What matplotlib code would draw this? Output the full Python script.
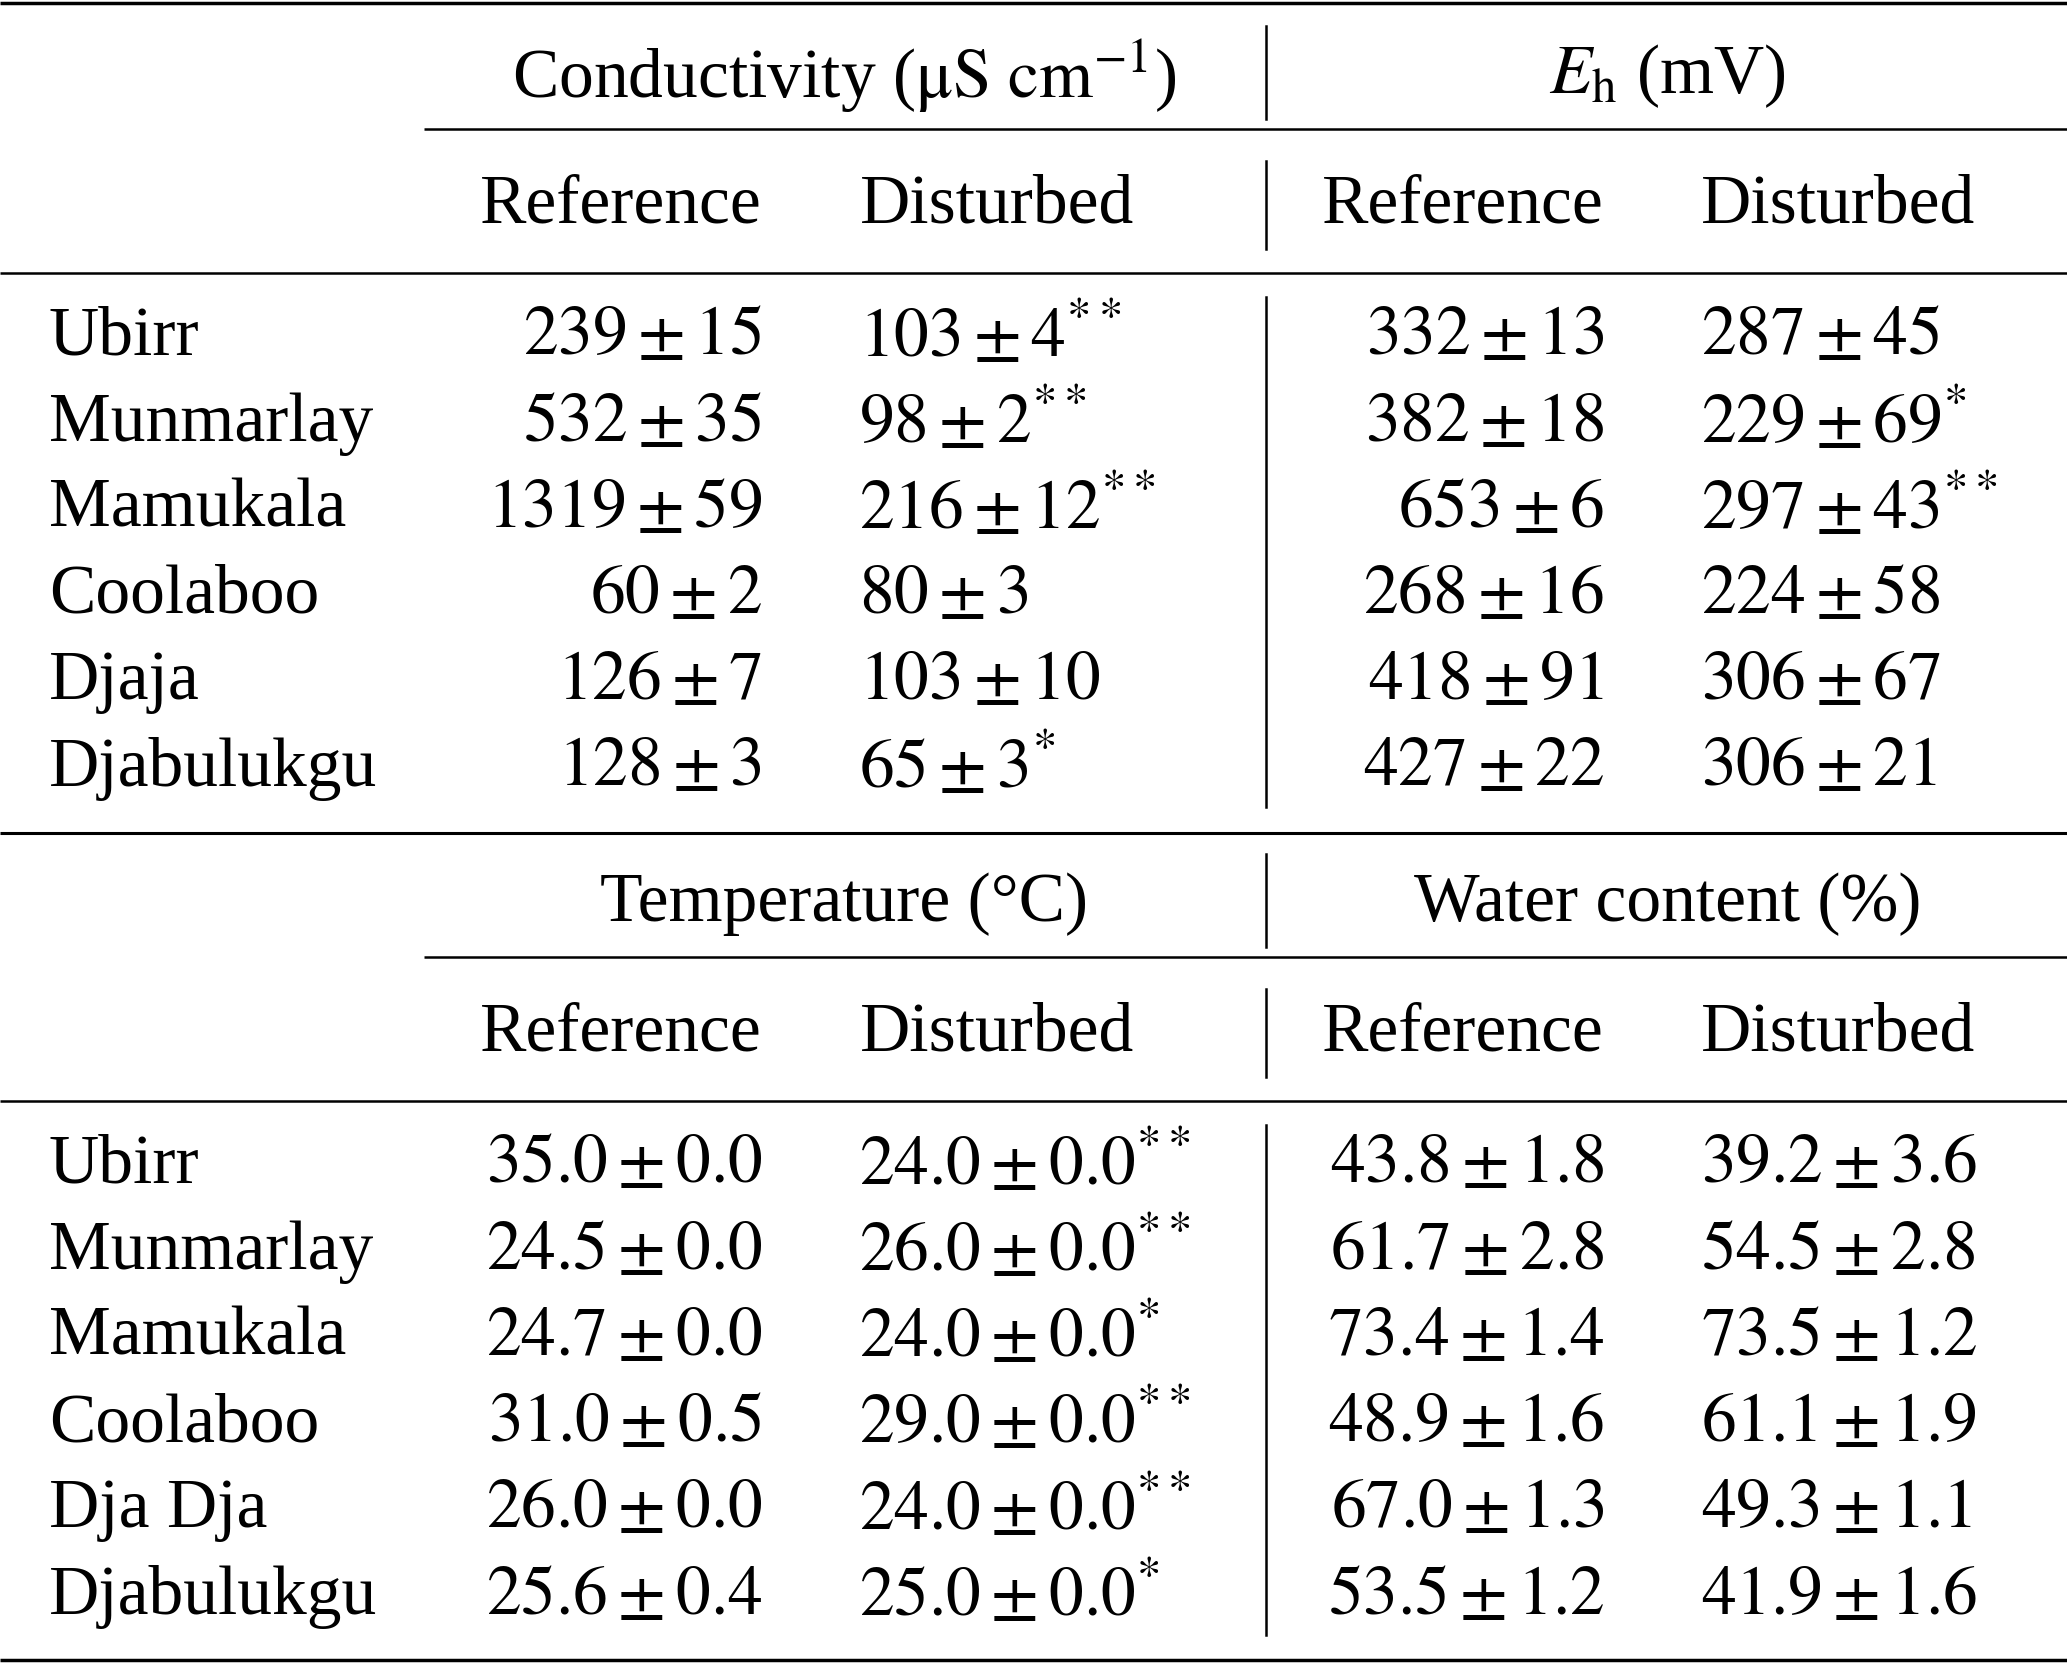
import matplotlib.pyplot as plt

plt.rcParams["mathtext.fontset"] = "stix"
plt.rcParams["font.family"] = ["Liberation Serif", "DejaVu Serif"]

sites_top = ["Ubirr", "Munmarlay", "Mamukala", "Coolaboo", "Djaja", "Djabulukgu"]
sites_bot = ["Ubirr", "Munmarlay", "Mamukala", "Coolaboo", "Dja Dja", "Djabulukgu"]

cond_ref = [(239, 15), (532, 35), (1319, 59), (60, 2), (126, 7), (128, 3)]
cond_dis = [(103, 4), (98, 2), (216, 12), (80, 3), (103, 10), (65, 3)]
cond_sig = ["**", "**", "**", "", "", "*"]
eh_ref = [(332, 13), (382, 18), (653, 6), (268, 16), (418, 91), (427, 22)]
eh_dis = [(287, 45), (229, 69), (297, 43), (224, 58), (306, 67), (306, 21)]
eh_sig = ["", "*", "**", "", "", ""]

temp_ref = [(35.0, 0.0), (24.5, 0.0), (24.7, 0.0), (31.0, 0.5), (26.0, 0.0), (25.6, 0.4)]
temp_dis = [(24.0, 0.0), (26.0, 0.0), (24.0, 0.0), (29.0, 0.0), (24.0, 0.0), (25.0, 0.0)]
temp_sig = ["**", "**", "*", "**", "**", "*"]
wc_ref = [(43.8, 1.8), (61.7, 2.8), (73.4, 1.4), (48.9, 1.6), (67.0, 1.3), (53.5, 1.2)]
wc_dis = [(39.2, 3.6), (54.5, 2.8), (73.5, 1.2), (61.1, 1.9), (49.3, 1.1), (41.9, 1.6)]

W, H = 1568.0, 1262.0
FS = 50

fig = plt.figure(figsize=(20.67, 16.64), dpi=100)
ax = fig.add_axes([0, 0, 1, 1])
ax.set_xlim(0, W)
ax.set_ylim(H, 0)
ax.axis("off")


def fmt(v, dec, sig=""):
    s = f"{v[0]:.{dec}f}\\pm{v[1]:.{dec}f}"
    if sig:
        s += "^{" + sig + "}"
    return "$" + s + "$"


def hline(y, x0=0, lw=2.2):
    ax.plot([x0, W], [y, y], color="black", lw=lw, solid_capstyle="butt")


def vline(y0, y1):
    ax.plot([960, 960], [y0, y1], color="black", lw=1.8)


def block(y0, head1, head2, sites, c1, c2, c3, c4, s2, s4, dec):
    ax.text(640, y0 + 56, head1, ha="center", va="center", fontsize=FS)
    ax.text(1265, y0 + 56, head2, ha="center", va="center", fontsize=FS)
    vline(y0 + 18, y0 + 88)
    hline(y0 + 96, 322, 1.8)
    for x, t in [(471, "Reference"), (756, "Disturbed"), (1110, "Reference"), (1394, "Disturbed")]:
        ax.text(x, y0 + 154, t, ha="center", va="center", fontsize=FS)
    vline(y0 + 120, y0 + 187)
    hline(y0 + 205, 0, 1.8)
    vline(y0 + 223, y0 + 610)
    for i, name in enumerate(sites):
        y = y0 + 254 + i * 65.4
        ax.text(37, y, name, ha="left", va="center", fontsize=FS)
        ax.text(578, y, fmt(c1[i], dec), ha="right", va="center", fontsize=FS)
        ax.text(652, y, fmt(c2[i], dec, s2[i]), ha="left", va="center", fontsize=FS)
        ax.text(1217, y, fmt(c3[i], dec), ha="right", va="center", fontsize=FS)
        ax.text(1290, y, fmt(c4[i], dec, s4[i]), ha="left", va="center", fontsize=FS)


hline(2, 0, 2.5)
block(2, r"Conductivity ($\mathrm{\mu S\ cm^{-1}}$)", r"$E_\mathrm{h}$ (mV)", sites_top,
      cond_ref, cond_dis, eh_ref, eh_dis, cond_sig, eh_sig, 0)
hline(632, 0, 2.2)
block(630, "Temperature (°C)", "Water content (%)", sites_bot,
      temp_ref, temp_dis, wc_ref, wc_dis, temp_sig, [""] * 6, 1)
hline(1259, 0, 2.5)

fig.savefig("out.png", dpi=100)
